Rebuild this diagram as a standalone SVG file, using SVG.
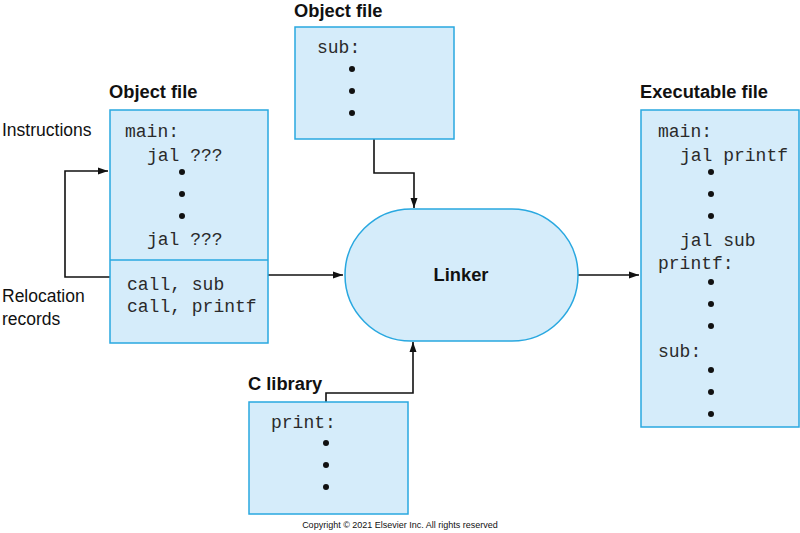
<svg xmlns="http://www.w3.org/2000/svg" width="800" height="533" viewBox="0 0 800 533">
<defs>
<style>
.box{fill:#d5ecfa;stroke:#29a8e0;stroke-width:1.5}
.mono{font-family:"Liberation Mono","DejaVu Sans Mono",monospace;font-size:18px;fill:#2a2a2a}
.title{font-family:"Liberation Sans",Arial,sans-serif;font-weight:bold;font-size:18.3px;fill:#111}
.lbl{font-family:"Liberation Sans",Arial,sans-serif;font-size:17.5px;fill:#111}
.conn{fill:none;stroke:#111;stroke-width:1.6}
.dot{fill:#111}
</style>
<marker id="ah" viewBox="0 0 10 10" refX="10" refY="5" markerWidth="10" markerHeight="10" markerUnits="userSpaceOnUse" orient="auto">
<path d="M0,1.5 L10,5 L0,8.5 Z" fill="#111"/>
</marker>
</defs>
<rect width="800" height="533" fill="#fff"/>

<g id="connectors">
<path class="conn" d="M110,277 H65 V171 H108" marker-end="url(#ah)"/>
<path class="conn" d="M268,275 H343" marker-end="url(#ah)"/>
<path class="conn" d="M374,139 V173 H414 V208" marker-end="url(#ah)"/>
<path class="conn" d="M578,275 H639" marker-end="url(#ah)"/>
<path class="conn" d="M326,402 V393 H413 V342" marker-end="url(#ah)"/>
</g>

<g id="objfile1">
<text class="title" x="109" y="98">Object file</text>
<rect class="box" x="110" y="110" width="158" height="233"/>
<line x1="110" y1="260" x2="268" y2="260" stroke="#29a8e0" stroke-width="1.5"/>
<text class="mono" x="125" y="137">main:</text>
<text class="mono" x="147" y="161">jal ???</text>
<circle class="dot" cx="182" cy="172" r="3"/>
<circle class="dot" cx="182" cy="194" r="3"/>
<circle class="dot" cx="182" cy="216" r="3"/>
<text class="mono" x="147" y="245">jal ???</text>
<text class="mono" x="127" y="290">call, sub</text>
<text class="mono" x="127" y="312">call, printf</text>
</g>

<g id="labels">
<text class="lbl" x="2" y="136">Instructions</text>
<text class="lbl" x="2" y="302">Relocation</text>
<text class="lbl" x="2" y="325">records</text>
</g>

<g id="objfile2">
<text class="title" x="294" y="17">Object file</text>
<rect class="box" x="295" y="27" width="159" height="112"/>
<text class="mono" x="317" y="53">sub:</text>
<circle class="dot" cx="352" cy="69" r="3"/>
<circle class="dot" cx="352" cy="91" r="3"/>
<circle class="dot" cx="352" cy="113" r="3"/>
</g>

<g id="linker">
<rect class="box" x="345" y="209" width="233" height="132" rx="66" ry="66"/>
<text class="title" x="461" y="281" text-anchor="middle">Linker</text>
</g>

<g id="clib">
<text class="title" x="248" y="390">C library</text>
<rect class="box" x="249" y="402" width="159" height="112"/>
<text class="mono" x="271" y="428">print:</text>
<circle class="dot" cx="326" cy="443" r="3"/>
<circle class="dot" cx="326" cy="465" r="3"/>
<circle class="dot" cx="326" cy="487" r="3"/>
</g>

<g id="exec">
<text class="title" x="640" y="98">Executable file</text>
<rect class="box" x="641" y="110" width="158" height="317"/>
<text class="mono" x="658" y="137">main:</text>
<text class="mono" x="680" y="161">jal printf</text>
<circle class="dot" cx="711" cy="172" r="3"/>
<circle class="dot" cx="711" cy="194" r="3"/>
<circle class="dot" cx="711" cy="216" r="3"/>
<text class="mono" x="680" y="246">jal sub</text>
<text class="mono" x="658" y="269">printf:</text>
<circle class="dot" cx="711" cy="282" r="3"/>
<circle class="dot" cx="711" cy="304" r="3"/>
<circle class="dot" cx="711" cy="326" r="3"/>
<text class="mono" x="658" y="357">sub:</text>
<circle class="dot" cx="711" cy="370" r="3"/>
<circle class="dot" cx="711" cy="392" r="3"/>
<circle class="dot" cx="711" cy="414" r="3"/>
</g>

<text x="400" y="528" text-anchor="middle" style="font-family:'Liberation Sans',Arial,sans-serif;font-size:9px;fill:#111">Copyright © 2021 Elsevier Inc. All rights reserved</text>
</svg>
